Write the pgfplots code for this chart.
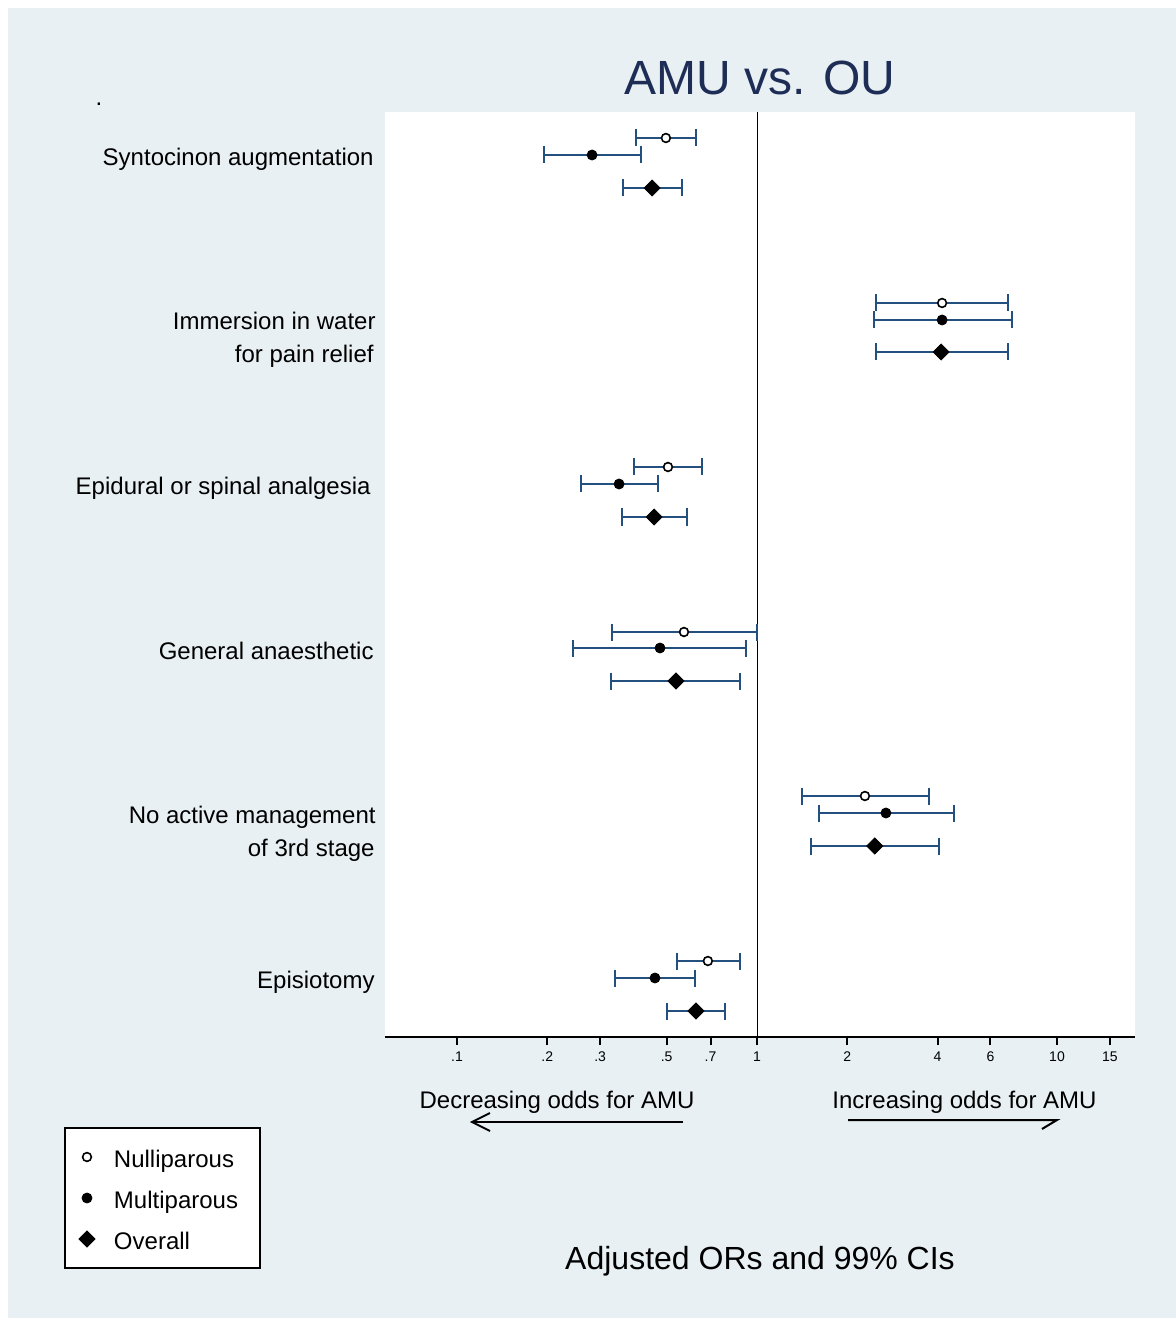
\documentclass[border=0pt]{standalone}
\usepackage{pgfplots}
\pgfplotsset{compat=1.18}
\usepackage{pgfplotstable}
\usepackage{fontspec}
\setmainfont{Liberation Sans}
\definecolor{panelbg}{RGB}{232,240,243}
\definecolor{cicol}{RGB}{36,80,127}
\definecolor{titlecol}{RGB}{30,45,85}

% y position, estimate, lower, upper
\pgfplotstableread{
y est lo hi
899 0.497 0.395 0.626
734 4.14 2.49 6.87
570 0.505 0.389 0.656
405 0.571 0.329 1.00
241 2.29 1.41 3.74
76 0.686 0.541 0.878
}\nulli
\pgfplotstableread{
y est lo hi
882 0.282 0.195 0.410
717 4.14 2.45 7.08
553 0.347 0.259 0.468
389 0.475 0.244 0.919
224 2.69 1.61 4.54
59 0.457 0.336 0.621
}\multi
\pgfplotstableread{
y est lo hi
849 0.447 0.357 0.562
685 4.11 2.49 6.87
520 0.454 0.355 0.584
356 0.537 0.326 0.878
191 2.47 1.51 4.04
26 0.626 0.501 0.782
}\overall

\newcommand\ci[3]{\addplot[cicol, line width=1pt, mark=|, mark size=4.25pt, mark options={solid, line width=1pt, cicol}, forget plot] coordinates {(#1,#3) (#2,#3)};}

\begin{document}
\begin{tikzpicture}
\begin{scope}[shift={(-192.5pt,518.5pt)}, x=0.5pt, y=-0.5pt]
\fill[white] (0,0) rectangle (1176,1318);
\fill[panelbg] (8,8) rectangle (1176,1318);
\end{scope}
\begin{axis}[
  at={(0pt,0pt)}, anchor=south west,
  scale only axis, width=375pt, height=462.5pt,
  xmode=log, xmin=0.05754, xmax=18.197, ymin=0, ymax=925,
  axis x line*=bottom, axis y line=none,
  axis background/.style={fill=white},
  x axis line style={black, line width=1.2pt},
  xtick={0.1,0.2,0.3,0.5,0.7,1,2,4,6,10,15},
  xticklabels={.1,.2,.3,.5,.7,1,2,4,6,10,15},
  minor xtick={},
  xtick align=outside,
  major tick length=4pt,
  xtick style={black, line width=1pt},
  xticklabel style={font=\fontsize{7}{8}\selectfont, text=black},
  /pgf/number format/assume math mode=true,
  legend style={at={(-0.428,-0.0973)}, anchor=north west, draw=black, line width=1pt, fill=white,
    inner xsep=6pt, inner ysep=8.5pt, row sep=8.5pt, column sep=8.5pt,
    font=\fontsize{12}{14}\selectfont,
    nodes={inner sep=0pt, text height=11pt, text depth=1pt, text width=67pt}},
  legend cell align=left,
  legend image code/.code={\path[draw=none, fill=none] (-5pt,-4pt) rectangle (5pt,4pt); \draw[#1] plot coordinates {(0pt,0pt)};},
]
\addplot[black, line width=0.5pt, forget plot] coordinates {(1,0) (1,925)};
% Syntocinon augmentation
\ci{0.395}{0.626}{899} \ci{0.195}{0.410}{882} \ci{0.357}{0.562}{849}
% Immersion
\ci{2.49}{6.87}{734} \ci{2.45}{7.08}{717} \ci{2.49}{6.87}{685}
% Epidural
\ci{0.389}{0.656}{570} \ci{0.259}{0.468}{553} \ci{0.355}{0.584}{520}
% General anaesthetic
\ci{0.329}{1.00}{405} \ci{0.244}{0.919}{389} \ci{0.326}{0.878}{356}
% No active management
\ci{1.41}{3.74}{241} \ci{1.61}{4.54}{224} \ci{1.51}{4.04}{191}
% Episiotomy
\ci{0.541}{0.878}{76} \ci{0.336}{0.621}{59} \ci{0.501}{0.782}{26}

\addplot[only marks, mark=*, mark size=2.2pt, mark options={fill=white, draw=black, line width=0.8pt}] table[x=est, y=y] {\nulli};
\addlegendentry{Nulliparous}
\addplot[only marks, mark=*, mark size=2.5pt, mark options={fill=black, draw=black, line width=0.4pt}] table[x=est, y=y] {\multi};
\addlegendentry{Multiparous}
\addplot[only marks, mark=square*, mark size=2.83pt, mark options={fill=black, draw=black, line width=0.4pt, rotate=45}] table[x=est, y=y] {\overall};
\addlegendentry{Overall}
\end{axis}
\begin{scope}[shift={(-192.5pt,518.5pt)}, x=0.5pt, y=-0.5pt, font=\fontsize{12}{14}\selectfont]
\node[anchor=base, text=titlecol, font=\fontsize{24}{28}\selectfont, inner sep=0pt] at (760,95) {AMU vs. OU};
\node[anchor=base, inner sep=0pt] at (99,106) {.};
\node[anchor=base east, inner sep=0pt] at (374,166) {Syntocinon augmentation};
\node[anchor=base east, inner sep=0pt] at (376,330) {Immersion in water};
\node[anchor=base east, inner sep=0pt] at (374,363) {for pain relief};
\node[anchor=base east, inner sep=0pt] at (371,495) {Epidural or spinal analgesia};
\node[anchor=base east, inner sep=0pt] at (374,660) {General anaesthetic};
\node[anchor=base east, inner sep=0pt] at (376,824) {No active management};
\node[anchor=base east, inner sep=0pt] at (375,857) {of 3rd stage};
\node[anchor=base east, inner sep=0pt] at (375,988) {Episiotomy};
\node[anchor=base, inner sep=0pt] at (557,1108) {Decreasing odds for AMU};
\node[anchor=base, inner sep=0pt] at (964.5,1108) {Increasing odds for AMU};
\draw[line width=1pt] (683,1122) -- (472,1122);
\draw[line width=1pt] (490,1113) -- (472,1122) -- (490,1131);
\draw[line width=1pt] (848,1120) -- (1057,1120) -- (1042,1129);
\node[anchor=base, inner sep=0pt, font=\fontsize{16}{19}\selectfont] at (760,1269) {Adjusted ORs and 99\% CIs};
\end{scope}
\end{tikzpicture}
\end{document}
